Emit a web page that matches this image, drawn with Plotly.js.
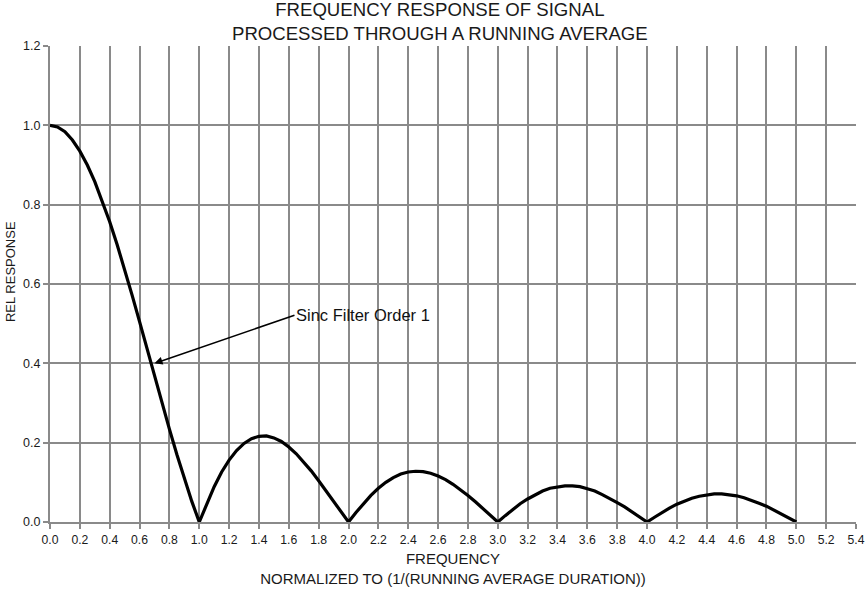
<!DOCTYPE html>
<html>
<head>
<meta charset="utf-8">
<script src="https://cdn.plot.ly/plotly-3.0.1.min.js"></script>
<style>html,body{margin:0;padding:0;background:#fff;}#chart{width:866px;height:593px;}</style>
</head>
<body>
<div id="chart"></div>
<script>
// Normalized frequency (1/(running average duration))
const freq = [
  0.00,0.05,0.10,0.15,0.20,0.25,0.30,0.35,0.40,0.45,0.50,0.55,0.60,0.65,0.70,0.75,0.80,0.85,0.90,0.95,
  1.00,1.05,1.10,1.15,1.20,1.25,1.30,1.35,1.40,1.45,1.50,1.55,1.60,1.65,1.70,1.75,1.80,1.85,1.90,1.95,
  2.00,2.05,2.10,2.15,2.20,2.25,2.30,2.35,2.40,2.45,2.50,2.55,2.60,2.65,2.70,2.75,2.80,2.85,2.90,2.95,
  3.00,3.05,3.10,3.15,3.20,3.25,3.30,3.35,3.40,3.45,3.50,3.55,3.60,3.65,3.70,3.75,3.80,3.85,3.90,3.95,
  4.00,4.05,4.10,4.15,4.20,4.25,4.30,4.35,4.40,4.45,4.50,4.55,4.60,4.65,4.70,4.75,4.80,4.85,4.90,4.95,
  5.00
];
// Relative response
const relResponse = [
  1.000,0.996,0.984,0.963,0.935,0.900,0.858,0.810,0.757,0.699,0.637,0.572,0.505,0.436,0.368,0.300,0.234,0.170,0.109,0.052,
  0.000,0.047,0.089,0.126,0.156,0.180,0.198,0.210,0.216,0.217,0.212,0.203,0.189,0.172,0.151,0.129,0.104,0.078,0.052,0.026,
  0.000,0.024,0.047,0.067,0.085,0.100,0.112,0.121,0.126,0.128,0.127,0.123,0.116,0.107,0.095,0.082,0.067,0.051,0.034,0.017,
  0.000,0.016,0.032,0.046,0.058,0.069,0.078,0.085,0.089,0.091,0.091,0.089,0.084,0.078,0.069,0.060,0.049,0.038,0.025,0.013,
  0.000,0.012,0.024,0.035,0.045,0.053,0.060,0.065,0.069,0.071,0.071,0.069,0.066,0.061,0.055,0.047,0.040,0.030,0.020,0.010,
  0.000
];
const xTicks = [0.0,0.2,0.4,0.6,0.8,1.0,1.2,1.4,1.6,1.8,2.0,2.2,2.4,2.6,2.8,3.0,3.2,3.4,3.6,3.8,4.0,4.2,4.4,4.6,4.8,5.0,5.2,5.4];
const yTicks = [0.0,0.2,0.4,0.6,0.8,1.0,1.2];
const titleText = "FREQUENCY RESPONSE OF SIGNAL<br>PROCESSED THROUGH A RUNNING AVERAGE";
const xTitleText = "FREQUENCY<br>NORMALIZED TO (1/(RUNNING AVERAGE DURATION))";
const yTitleText = "REL RESPONSE";
const annotationText = "Sinc Filter Order 1";
const annotationPoint = {x: 0.70, y: 0.40};

const gridColor = "#8a8a8a";
const textColor = "#1a1a1a";
const font = "Liberation Sans, Arial, sans-serif";

const W = 866, H = 593;
const M = {l: 50, r: 10, t: 46, b: 71};
const plotH = H - M.t - M.b;
const plotW = W - M.l - M.r;
const pyPaper = px => 1 + (M.t - px) / plotH;
const pxPaper = px => (px - M.l) / plotW;

const trace = {
  x: freq, y: relResponse, type: "scatter", mode: "lines",
  line: {color: "#000", width: 3.2}, hoverinfo: "x+y"
};

const layout = {
  width: W, height: H,
  margin: M,
  paper_bgcolor: "#fff", plot_bgcolor: "#fff",
  showlegend: false,
  font: {family: font, color: textColor, size: 12},
  xaxis: {
    range: [0, 5.4], tickvals: xTicks, ticktext: xTicks.map(v => v.toFixed(1)),
    showgrid: true, gridcolor: gridColor, gridwidth: 2,
    showline: true, linecolor: gridColor, linewidth: 2,
    ticks: "outside", ticklen: 5, tickcolor: gridColor, tickwidth: 2,
    zeroline: false, tickfont: {size: 12.2, color: textColor},
    ticklabeloverflow: "allow",
    title: {text: xTitleText, font: {size: 15, color: textColor}, standoff: 8}
  },
  yaxis: {
    range: [0, 1.2], tickvals: yTicks, ticktext: yTicks.map(v => v.toFixed(1)),
    showgrid: true, gridcolor: gridColor, gridwidth: 2,
    showline: true, linecolor: gridColor, linewidth: 2,
    ticks: "outside", ticklen: 5, tickcolor: gridColor, tickwidth: 2,
    zeroline: false, tickfont: {size: 12.5, color: textColor},
    title: {text: ""}
  },
  annotations: [
    {
      xref: "paper", yref: "paper", x: pxPaper(440), y: pyPaper(22),
      xanchor: "center", yanchor: "middle", showarrow: false, text: titleText,
      borderpad: 0,
      font: {family: font, size: 18.6, color: textColor}
    },
    {
      x: annotationPoint.x, y: annotationPoint.y, xref: "x", yref: "y",
      text: annotationText, showarrow: true,
      ax: 140, ay: -48, xanchor: "left", yanchor: "middle",
      arrowhead: 2, arrowsize: 1, arrowwidth: 1.6, arrowcolor: "#000",
      font: {size: 16.5, color: "#111", family: font}
    },
    {
      xref: "paper", yref: "paper", x: pxPaper(10), y: 0.525,
      xanchor: "center", yanchor: "middle", textangle: -90,
      text: yTitleText, showarrow: false,
      font: {size: 13, color: textColor, family: font}
    }
  ]
};

Plotly.newPlot("chart", [trace], layout, {displayModeBar: false, staticPlot: true});
</script>
</body>
</html>
